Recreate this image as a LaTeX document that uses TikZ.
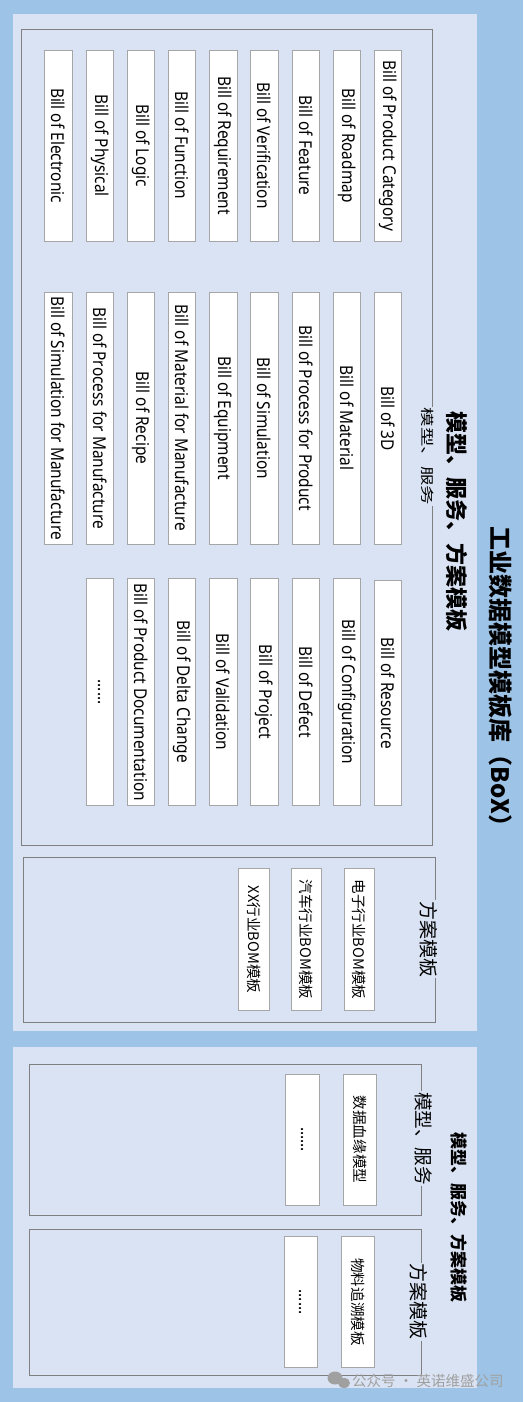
\documentclass[tikz,border=0pt]{standalone}
\usepackage{fontspec}
\setmainfont{Noto Sans}
\newfontfamily\billfont[FakeStretch=0.87]{Noto Sans}
\newfontfamily\cjk{Noto Sans CJK SC}
\newfontfamily\cjknarrow[FakeStretch=1.45]{Noto Sans CJK SC}
\definecolor{outerblue}{HTML}{9DC3E6}
\definecolor{panelc}{HTML}{DAE3F3}
\definecolor{framegray}{HTML}{7F7F7F}
\definecolor{boxgray}{HTML}{A6A6A6}
\definecolor{wmgray}{HTML}{A0A0A0}
\begin{document}
\begin{tikzpicture}[x=1pt,y=-1pt,
  panel/.style 2 args={fill=panelc, draw=none, inner sep=0pt, minimum width=#1, minimum height=#2},
  frame/.style 2 args={draw=framegray, line width=1pt, inner sep=0pt, minimum width=#1, minimum height=#2},
  bill/.style 2 args={draw=boxgray, fill=white, line width=0.8pt, rotate=-90, inner sep=0pt,
     minimum width=#1, minimum height=#2, font=\billfont\fontsize{17.7}{18}\selectfont},
  cbill/.style 2 args={bill={#1}{#2}, font=\cjk\fontsize{14.6}{16}\selectfont},
  lab/.style={rotate=-90, fill=panelc, inner sep=1pt, font=\cjk\fontsize{19}{20}\selectfont},
  blab/.style={rotate=-90, inner sep=1pt, font=\cjk\bfseries\fontsize{22}{24}\selectfont},
]
\useasboundingbox (0,0) rectangle (523,1402);
\fill[outerblue] (0,0) rectangle (523,1402);

% panels
\node[panel={464}{1017}] (p1) at (245,522.5) {};
\node[panel={464}{341}] (p2) at (245,1217.5) {};

% title
\node[rotate=-90, inner sep=0pt, font=\cjk\bfseries\fontsize{24}{26}\selectfont] (title) at (501,682.5) {工业数据模型模板库（BoX）};

% frames panel 1
\node[frame={411}{815}] (f1) at (226.5,437.5) {};
\node[frame={411.7}{165.7}] (f2) at (229.2,939.9) {};

% row 1
\node[bill={191}{27.5}] (a1) at (58.5,145.5) {Bill of Electronic};
\node[bill={191}{27.5}] (a2) at (99.7,145.5) {Bill of Physical};
\node[bill={191}{27.5}] (a3) at (140.9,145.5) {Bill of Logic};
\node[bill={191}{27.5}] (a4) at (182.1,145.5) {Bill of Function};
\node[bill={191}{27.5}] (a5) at (223.3,145.5) {Bill of Requirement};
\node[bill={191}{27.5}] (a6) at (264.5,145.5) {Bill of Verification};
\node[bill={191}{27.5}] (a7) at (305.7,145.5) {Bill of Feature};
\node[bill={191}{27.5}] (a8) at (346.9,145.5) {Bill of Roadmap};
\node[bill={191}{27.5}] (a9) at (388.1,145.5) {Bill of Product Category};

% row 2
\node[bill={252}{27.5}] (b1) at (58.5,418) {Bill of Simulation for Manufacture};
\node[bill={252}{27.5}] (b2) at (99.7,418) {Bill of Process for Manufacture};
\node[bill={252}{27.5}] (b3) at (140.9,418) {Bill of Recipe};
\node[bill={252}{27.5}] (b4) at (182.1,418) {Bill of Material for Manufacture};
\node[bill={252}{27.5}] (b5) at (223.3,418) {Bill of Equipment};
\node[bill={252}{27.5}] (b6) at (264.5,418) {Bill of Simulation};
\node[bill={252}{27.5}] (b7) at (305.7,418) {Bill of Process for Product};
\node[bill={252}{27.5}] (b8) at (346.9,418) {Bill of Material};
\node[bill={252}{27.5}] (b9) at (388.1,418.5) {Bill of 3D};

% row 3
\node[bill={227.5}{27.5}] (c2) at (99.7,692) {......};
\node[bill={227.5}{27.5}] (c3) at (140.9,692) {Bill of Product Documentation};
\node[bill={227.5}{27.5}] (c4) at (182.1,692) {Bill of Delta Change};
\node[bill={227.5}{27.5}] (c5) at (223.3,692) {Bill of Validation};
\node[bill={227.5}{27.5}] (c6) at (264.5,692) {Bill of Project};
\node[bill={227.5}{27.5}] (c7) at (305.7,692) {Bill of Defect};
\node[bill={227.5}{27.5}] (c8) at (346.9,692) {Bill of Configuration};
\node[bill={225}{27.5}] (c9) at (388.1,693.3) {Bill of Resource};

% panel 1 labels
\node[blab] (l1) at (457,521) {模型、服务、方案模板};
\node[lab, font=\cjknarrow\fontsize{13.4}{15}\selectfont] (l2) at (428,456.5) {模型、服务};
\node[lab] (l3) at (429,939) {方案模板};

% solution templates
\node[cbill={142.4}{30.3}] (s1) at (359.2,939.5) {电子行业BOM模板};
\node[cbill={142.4}{30}] (s2) at (306.3,939.5) {汽车行业BOM模板};
\node[cbill={142.4}{30.3}] (s3) at (253.9,939.5) {XX行业BOM模板};

% panel 2
\node[frame={392}{150.3}] (f3) at (225,1139.9) {};
\node[frame={392}{146}] (f4) at (225,1302) {};
\node[blab, font=\cjk\bfseries\fontsize{17}{18}\selectfont] (l4) at (459.5,1217.5) {模型、服务、方案模板};
\node[lab, font=\cjk\fontsize{18.6}{20}\selectfont] (l5) at (424,1138.5) {模型、服务};
\node[lab] (l6) at (419,1301.5) {方案模板};

\node[cbill={131}{32.7}] (m1) at (359.7,1139.5) {数据血缘模型};
\node[bill={131}{34}] (m2) at (302,1139.5) {......};
\node[cbill={130.6}{33.3}] (t1) at (357.7,1302) {物料追溯模板};
\node[bill={130.6}{33.7}] (t2) at (300.8,1302) {......};

% watermark
\fill[wmgray] (335,1378) ellipse (7.5 and 6.5);
\fill[wmgray] (344,1383) ellipse (6 and 5);
\node[anchor=west, inner sep=0pt, text=wmgray, font=\cjk\fontsize{14.5}{16}\selectfont] (wm) at (352,1381) {公众号 · 英诺维盛公司};
\end{tikzpicture}
\end{document}
